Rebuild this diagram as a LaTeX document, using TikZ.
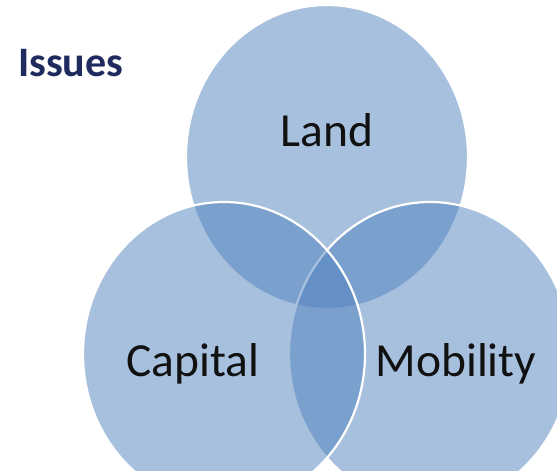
\documentclass[tikz,border=0pt]{standalone}
\usepackage{fontspec}
\setmainfont{Carlito}
\usetikzlibrary{shapes.geometric}
\definecolor{vennblue}{HTML}{4F81BD}
\definecolor{issuecol}{HTML}{1F2B5E}
\definecolor{labelcol}{HTML}{111111}
\tikzset{
  venn/.style={ellipse, minimum width=282pt, minimum height=304pt, inner sep=0pt,
    fill=vennblue, fill opacity=0.5, draw=white, draw opacity=1, line width=2.2pt},
  vlabel/.style={font=\fontsize{47.5}{52}\selectfont, text=labelcol, anchor=base, inner sep=0pt},
}
\begin{document}
\begin{tikzpicture}[x=1pt,y=-1pt]
\useasboundingbox (0,0) rectangle (557,471);
\clip (0,0) rectangle (557,471);
\node[venn] (land) at (327,157) {};
\node[venn] (mobility) at (430,354) {};
\node[venn] (capital) at (224,354) {};
\node[vlabel] (landtxt) at (327,146) {Land};
\node[vlabel] (captxt) at (193,376) {Capital};
\node[vlabel] (mobtxt) at (456,376) {Mobility};
\node[font=\bfseries\fontsize{42}{46}\selectfont, text=issuecol, anchor=base west, inner sep=0pt] (issues) at (18,76) {Issues};
\end{tikzpicture}
\end{document}
